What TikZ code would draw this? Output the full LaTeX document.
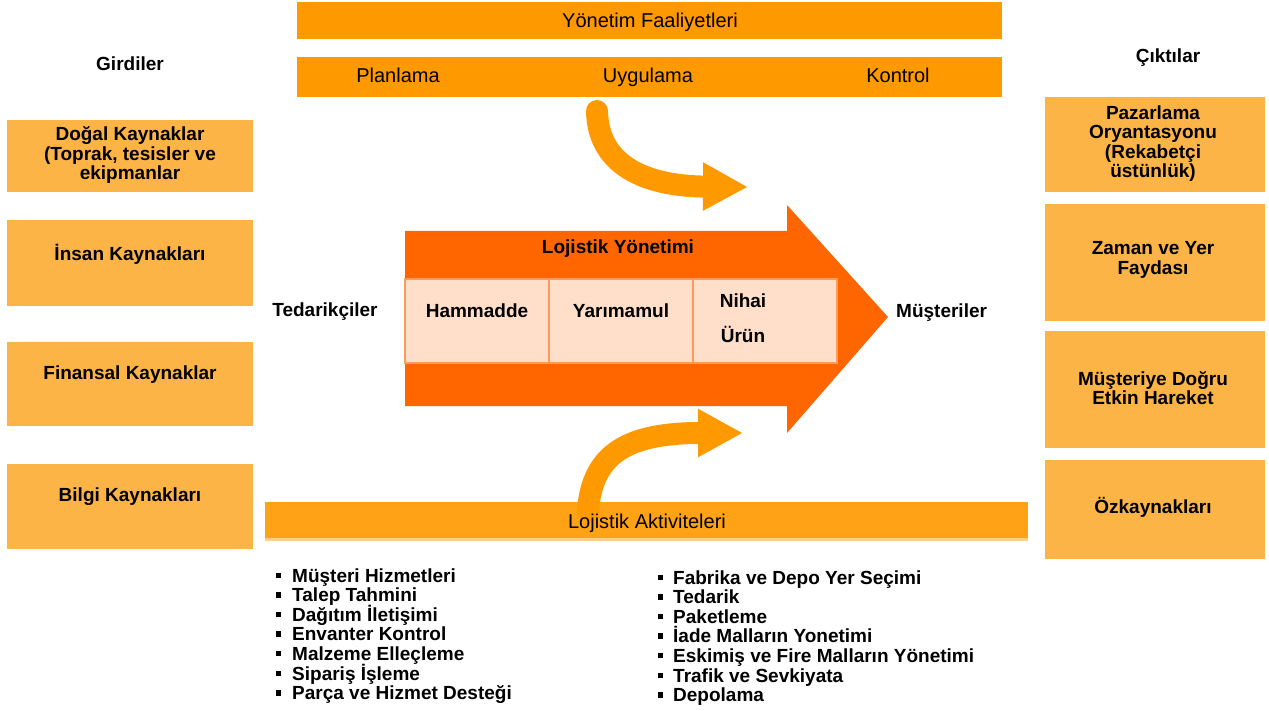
\documentclass[tikz,border=0pt]{standalone}
\usepackage{fontspec}
\setmainfont{Liberation Sans}
\usetikzlibrary{arrows.meta}
\definecolor{barorange}{HTML}{FF9900}
\definecolor{boxorange}{HTML}{FDB446}
\definecolor{botorange}{HTML}{FFA216}
\definecolor{botshade}{HTML}{FFCF87}
\definecolor{arrowred}{HTML}{FF6600}
\definecolor{bandpeach}{HTML}{FFDFC9}
\definecolor{celledge}{HTML}{FF9A5A}
\begin{document}
\begin{tikzpicture}[x=1pt,y=-1pt,
  bar/.style={fill=barorange, draw=none, inner sep=0pt, minimum width=705pt},
  barlabel/.style={font=\fontsize{20}{22}\selectfont, text=black, inner sep=0pt, anchor=base},
  sidebox/.style={fill=boxorange, draw=none, inner sep=0pt},
  boxtext/.style={font=\fontsize{19}{19.5}\selectfont\bfseries, align=center, inner sep=0pt},
  heading/.style={font=\fontsize{19}{21}\selectfont\bfseries, inner sep=0pt},
  cell/.style={fill=bandpeach, draw=celledge, line width=2pt, minimum width=144pt, minimum height=84pt, inner sep=0pt},
  celltext/.style={font=\fontsize{19}{35}\selectfont\bfseries, align=center, inner sep=0pt},
  curved/.style={draw=barorange, line width=22pt, line cap=round, -{Triangle[length=45pt,width=45pt]}},
  listitem/.style={anchor=base west, inner sep=0pt, font=\fontsize{19}{19}\selectfont\bfseries}
]
\useasboundingbox (0,0) rectangle (1269,711);

% management activities
\node[bar, minimum height=37pt] (mgmt) at (649.5,20.5) {};
\node[barlabel] (mgmtT) at (650,28) {Yönetim Faaliyetleri};
\node[bar, minimum height=40pt] (phases) at (649.5,77) {};
\node[barlabel] (plan) at (398,83) {Planlama};
\node[barlabel] (impl) at (648,83) {Uygulama};
\node[barlabel] (ctrl) at (898,83) {Kontrol};

% headings
\node[heading] (inH) at (130,64) {Girdiler};
\node[heading] (outH) at (1168,58) {Çıktılar};
\node[heading] (supp) at (325,312) {Tedarikçiler};
\node[heading, anchor=west] (cust) at (896,313) {Müşteriler};

% inputs
\node[sidebox, minimum width=246pt, minimum height=72pt] (in1) at (130,156) {};
\node[boxtext] (in1T) at (130,155) {Doğal Kaynaklar\\(Toprak, tesisler ve\\ekipmanlar};
\node[sidebox, minimum width=246pt, minimum height=86pt] (in2) at (130,263) {};
\node[boxtext] (in2T) at (130,254) {İnsan Kaynakları};
\node[sidebox, minimum width=246pt, minimum height=84pt] (in3) at (130,384) {};
\node[boxtext] (in3T) at (130,375) {Finansal Kaynaklar};
\node[sidebox, minimum width=246pt, minimum height=85pt] (in4) at (130,506.5) {};
\node[boxtext] (in4T) at (130,497) {Bilgi Kaynakları};

% outputs
\node[sidebox, minimum width=220pt, minimum height=95pt] (out1) at (1155,144.5) {};
\node[boxtext] (out1T) at (1153,143.5) {Pazarlama\\Oryantasyonu\\(Rekabetçi\\üstünlük)};
\node[sidebox, minimum width=220pt, minimum height=117pt] (out2) at (1155,262.5) {};
\node[boxtext] (out2T) at (1153,260) {Zaman ve Yer\\Faydası};
\node[sidebox, minimum width=220pt, minimum height=117pt] (out3) at (1155,389.5) {};
\node[boxtext] (out3T) at (1153,388) {Müşteriye Doğru\\Etkin Hareket};
\node[sidebox, minimum width=220pt, minimum height=99pt] (out4) at (1155,509.5) {};
\node[boxtext] (out4T) at (1153,507) {Özkaynakları};

% logistics management arrow
\coordinate (tip) at (888,317);
\fill[arrowred] (405,231) -- (787,231) -- (787,205) -- (tip) -- (787,433) -- (787,406) -- (405,406) -- cycle;
\node[heading] (lm) at (618,249) {Lojistik Yönetimi};
\node[cell] (c1) at (477,321) {};
\node[cell] (c2) at (621,321) {};
\node[cell] (c3) at (765,321) {};
\node[celltext] (c1T) at (477,311) {Hammadde};
\node[celltext] (c2T) at (621,311) {Yarımamul};
\node[celltext] (c3T) at (743,318) {Nihai\\Ürün};

% logistics activities bar
\node[fill=botorange, inner sep=0pt, minimum width=763pt, minimum height=36pt] (act) at (646.5,520) {};
\fill[botshade] (act.south west) rectangle ([yshift=-3pt]act.south east);

% curved arrows
\coordinate (topS) at (597,111);
\coordinate (topE) at (748,187);
\draw[curved] (topS) .. controls (598,162) and (640,186) .. (topE);
\coordinate (botS) at (588,511);
\coordinate (botE) at (743,433);
\draw[curved] (botS) .. controls (592,452) and (630,433) .. (botE);

\node[barlabel] (actT) at (647,528) {Lojistik Aktiviteleri};

% activity lists
\foreach \t [count=\i] in {Müşteri Hizmetleri,Talep Tahmini,Dağıtım İletişimi,Envanter Kontrol,Malzeme Elleçleme,Sipariş İşleme,Parça ve Hizmet Desteği}
  \node[listitem] (la\i) at (276,{582+19.6*(\i-1)}) {\rule[4pt]{5pt}{5.5pt}\hspace{11pt}\t};
\foreach \t [count=\i] in {Fabrika ve Depo Yer Seçimi,Tedarik,Paketleme,İade Malların Yonetimi,Eskimiş ve Fire Malların Yönetimi,Trafik ve Sevkiyata,Depolama}
  \node[listitem] (lb\i) at (658,{584+19.6*(\i-1)}) {\rule[4pt]{5pt}{5.5pt}\hspace{10pt}\t};
\end{tikzpicture}
\end{document}
